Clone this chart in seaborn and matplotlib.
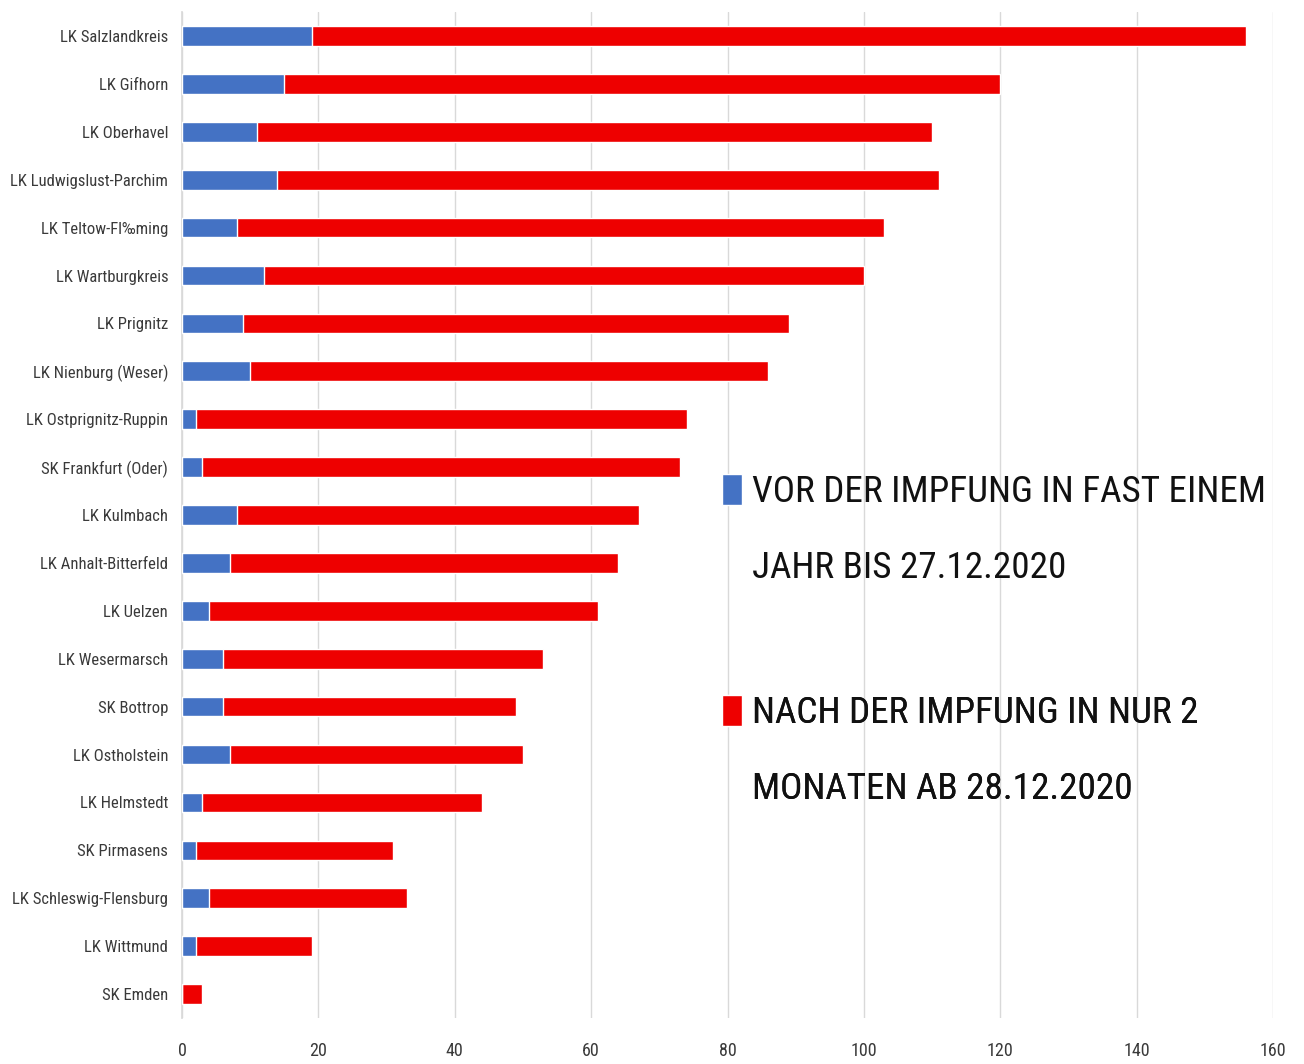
import pandas as pd
import numpy as np
import seaborn as sns
import matplotlib.pyplot as plt
from matplotlib.patches import Patch

# district names, top to bottom
districts = [
    "LK Salzlandkreis", "LK Gifhorn", "LK Oberhavel", "LK Ludwigslust-Parchim",
    "LK Teltow-Fl‰ming", "LK Wartburgkreis", "LK Prignitz", "LK Nienburg (Weser)",
    "LK Ostprignitz-Ruppin", "SK Frankfurt (Oder)", "LK Kulmbach",
    "LK Anhalt-Bitterfeld", "LK Uelzen", "LK Wesermarsch", "SK Bottrop",
    "LK Ostholstein", "LK Helmstedt", "SK Pirmasens", "LK Schleswig-Flensburg",
    "LK Wittmund", "SK Emden",
]
# before vaccination (almost one year up to 27.12.2020)
before = [19, 15, 11, 14, 8, 12, 9, 10, 2, 3, 8, 7, 4, 6, 6, 7, 3, 2, 4, 2, 0]
# after vaccination (only 2 months from 28.12.2020)
after = [137, 105, 99, 97, 95, 88, 80, 76, 72, 70, 59, 57, 57, 47, 43, 43, 41, 29, 29, 17, 3]
x_ticks = [0, 20, 40, 60, 80, 100, 120, 140, 160]

label_before = ["VOR DER IMPFUNG IN FAST EINEM", "JAHR BIS 27.12.2020"]
label_after = ["NACH DER IMPFUNG IN NUR 2", "MONATEN AB 28.12.2020"]

BLUE = "#4472C4"
RED = "#EE0000"

df = pd.DataFrame({"district": districts, "before": before, "after": after})
df["total"] = df["before"] + df["after"]

sns.set_theme(style="white")
plt.rcParams["font.family"] = ["Roboto Condensed", "Liberation Sans Narrow",
                               "Liberation Sans", "DejaVu Sans"]

fig = plt.figure(figsize=(13.04, 10.64), dpi=100)
ax = fig.add_axes([0.1396, 0.0432, 0.8366, 0.9455])

sns.barplot(data=df, x="total", y="district", color=RED, width=0.41,
            orient="h", ax=ax, saturation=1, zorder=3)
sns.barplot(data=df, x="before", y="district", color=BLUE, width=0.41,
            orient="h", ax=ax, saturation=1, zorder=4)

ax.set_xlim(0, 160)
ax.set_ylim(len(districts) - 0.5, -0.5)
ax.set_xticks(x_ticks)
ax.set_xlabel("")
ax.set_ylabel("")
ax.grid(axis="x", color="#D9D9D9", linewidth=1, zorder=0)
for side in ["top", "right", "bottom"]:
    ax.spines[side].set_visible(False)
ax.spines["left"].set_color("#D9D9D9")
ax.tick_params(axis="y", length=0, pad=10, labelsize=12, labelcolor="#3A3A3A")
ax.tick_params(axis="x", length=0, pad=17, labelsize=13, labelcolor="#3A3A3A")


def add_legend(color, lines, y):
    handles = [Patch(facecolor=color), Patch(facecolor="none", edgecolor="none")]
    leg = ax.legend(handles, lines, loc="center left", bbox_to_anchor=(0.4945, y),
                    frameon=False, fontsize=26.7, handlelength=0.54,
                    handleheight=0.92, handletextpad=0.27, labelspacing=1.08,
                    borderaxespad=0, borderpad=0)
    for t in leg.get_texts():
        t.set_color("#111111")
    ax.add_artist(leg)


add_legend(BLUE, label_before, 1 - (530 - 12) / 1006)
add_legend(RED, label_after, 1 - (751 - 12) / 1006)

fig.savefig("out.png", dpi=100, facecolor="white")
